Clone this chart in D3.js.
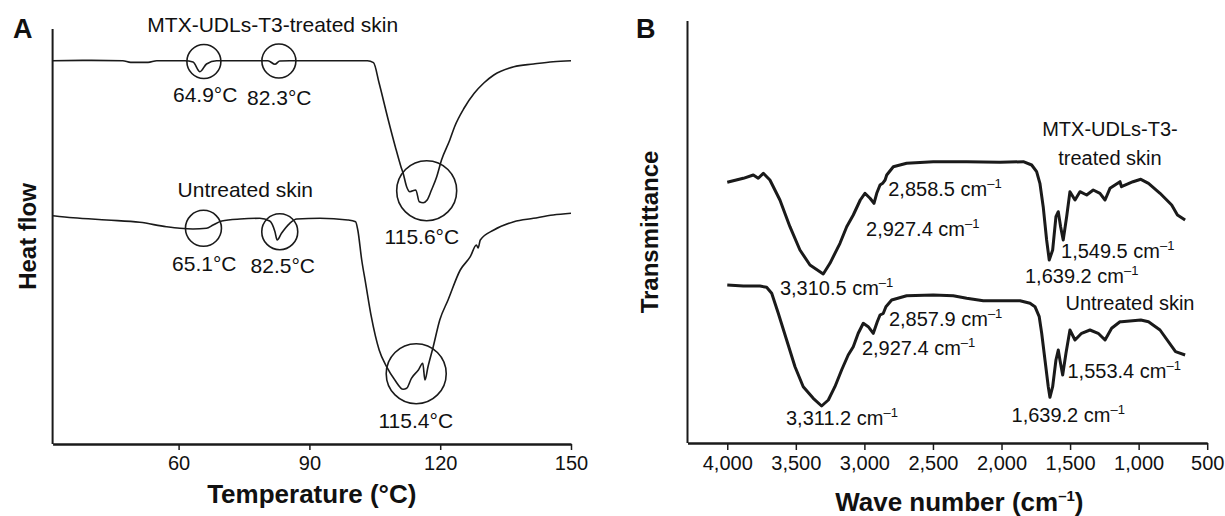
<!DOCTYPE html>
<html>
<head>
<meta charset="utf-8">
<script src="https://cdn.jsdelivr.net/npm/d3@7"></script>
<style>
  body { margin: 0; background: #fff; }
  svg text { font-family: "Liberation Sans", Arial, sans-serif; fill: #111; }
</style>
</head>
<body>
<svg id="chart" width="1225" height="516"></svg>
<script>
// ---- panel A : DSC thermograms (heat flow in arbitrary units) ----
var tempTicks = [60, 90, 120, 150];

var treatedTemp = [31.1, 40, 47.2, 49, 53, 55, 61.4, 63.3, 64.9, 66.4, 68.7, 80.5, 82.1, 83.2, 85.5,
  103.3, 104.7, 106, 107.9, 109.7, 111, 111.5, 112.3, 113.05, 114.4, 115.2, 116.1, 117, 118, 119.2,
  120.3, 122.2, 123.3, 125.5, 127.8, 130, 132.3, 136.9, 141.4, 145.9, 150];
var treatedHeat = [383.3, 383.6, 383.3, 381.6, 381.6, 383.3, 383.3, 382, 372.3, 380, 383.3, 383.3, 379.7, 383, 383.3,
  383.3, 381.3, 360.7, 327.3, 297.3, 277.3, 270.7, 257.3, 252.3, 254, 242.3, 241.3, 244, 254, 267.3,
  284, 304, 317.3, 336, 350.7, 361, 369, 377.3, 380, 382.3, 383.3];

var untreatedTemp = [31.2, 35.8, 43.5, 51.1, 57.2, 60.3, 63.3, 66.4, 67.9, 69.9, 74.1, 78.6, 80.9, 82.1,
  82.6, 83.6, 85.5, 87.1, 92.4, 98.8, 100.6, 101.1, 102, 102.9, 104.2, 106, 107.7, 109.6, 111.5, 112.3,
  113.4, 115, 116, 116.5, 117.2, 118.4, 119.9, 121.8, 124.6, 126.9, 128.3, 128.7, 129.2, 132.3, 136.9,
  141.4, 145.9, 150];
var untreatedHeat = [228.3, 226.3, 224, 221.7, 217.3, 215.7, 215, 215.7, 219, 223, 225, 225.7, 223, 212.3,
  204, 210.7, 220.7, 225, 225.7, 224, 222.3, 214, 184, 160.7, 127.3, 94, 77.3, 64, 54.7, 55.7,
  65.7, 74, 80.7, 64, 77.3, 97.3, 124, 144, 174, 187.3, 199, 196, 204, 214, 222.3,
  225.7, 229, 230.7];

// circled events: [temperature, heat flow] of centre, radius in px
var dscCircles = [[65.8, 382.5, 17], [83.0, 383, 17], [65.7, 215.7, 18], [83.2, 212.3, 18],
  [116.9, 253.3, 30], [114.5, 70.3, 30]];
var dscLabels = ["64.9°C", "82.3°C", "65.1°C", "82.5°C", "115.6°C", "115.4°C"];
var dscLabelAt = [[66.1, 342], [83.1, 339], [65.9, 173.3], [83.9, 170.7], [115.8, 200.5], [114.4, 15.7]];
var dscNames = ["MTX-UDLs-T3-treated skin", "Untreated skin"];
var dscNameAt = [[81.6, 411.7], [75.3, 246.7]];

// ---- panel B : FTIR spectra ----
var waveTicks = [4000, 3500, 3000, 2500, 2000, 1500, 1000, 500];

var treatedWave = [4000, 3883, 3810, 3774, 3737, 3689, 3616, 3543, 3470, 3397, 3300, 3251, 3178, 3129,
  3081, 3030, 2996, 2959, 2930, 2910, 2886, 2867, 2849, 2837, 2789, 2692, 2498, 2254, 2011, 1841,
  1780, 1744, 1720, 1696, 1671, 1652, 1627, 1603, 1586, 1569, 1550, 1525, 1501, 1464, 1428, 1379,
  1331, 1282, 1245, 1209, 1136, 1125, 1041, 984, 928, 844, 759, 717, 661];
var treatedTrans = [260.7, 264.7, 268, 264.7, 269.7, 263, 243, 216.3, 193, 178, 169, 179.7, 199.7, 216.3,
  228, 243, 249.7, 244.7, 239.7, 249.7, 258, 259.7, 263, 268, 276.3, 279.7, 281.3, 281.3, 280.7, 281.3,
  278, 271.3, 259.7, 236.3, 203, 183, 193, 226.3, 231.3, 216.3, 203, 226.3, 251.3, 243, 251.3, 248,
  253, 249.7, 243, 254.7, 261.3, 256.3, 261.3, 263.7, 259.7, 249.7, 238, 228, 223];

var untreatedWave = [4000, 3883, 3762, 3713, 3676, 3628, 3567, 3506, 3446, 3373, 3312, 3263, 3215, 3166,
  3118, 3081, 3045, 3008, 2972, 2935, 2906, 2886, 2862, 2843, 2801, 2692, 2498, 2352, 2254, 2133,
  2011, 1865, 1792, 1756, 1725, 1707, 1683, 1659, 1647, 1627, 1603, 1586, 1574, 1554, 1530, 1501,
  1464, 1416, 1355, 1295, 1245, 1197, 1136, 1125, 984, 928, 844, 731, 661];
var untreatedTrans = [158, 157, 157, 155.7, 149.7, 129.7, 103, 76.3, 56.3, 44.7, 37, 43, 56.3, 73,
  88, 96.3, 109.7, 119.7, 116.3, 109.7, 121.3, 128, 129.7, 136.3, 143, 147.3, 148, 147.3, 144.7, 142.3,
  142.3, 142.3, 139.7, 136.3, 126.3, 109.7, 83, 56.3, 45.7, 56.3, 83, 93, 83, 68, 89.7, 113,
  103, 109.7, 113, 109.7, 103, 114.7, 121.3, 121.3, 123, 121.3, 113, 91.3, 88];

var ftirLabels = ["2,858.5", "2,927.4", "1,549.5", "1,639.2", "3,310.5",
  "2,857.9", "2,927.4", "1,553.4", "1,639.2", "3,311.2"];
var ftirLabelAt = [[2826, 247.3], [2988, 207], [1566, 184.7], [1829, 159.7], [3616, 148],
  [2821, 117.3], [3018, 88], [1519, 64.7], [1927, 21.3], [3572, 18]];
var ftirNames = ["MTX-UDLs-T3-", "treated skin", "Untreated skin"];
var ftirNameAt = [[1209, 307], [1209, 278.5], [1063, 133]];

var svg = d3.select("#chart");
var ink = "#1a1a1a";

// ================= panel A =================
var xA = d3.scaleLinear().domain([31.1, 150]).range([52.6, 571]);
var yA = d3.scaleLinear().domain([0, 415]).range([444, 29]);

var gA = svg.append("g");

gA.append("line")
    .attr("x1", xA.range()[0]).attr("x2", xA.range()[0])
    .attr("y1", yA.range()[0]).attr("y2", yA.range()[1])
    .attr("stroke", ink).attr("stroke-width", 2);

var axA = gA.append("g")
    .attr("transform", "translate(0," + yA(0) + ")")
    .call(d3.axisBottom(xA).tickValues(tempTicks).tickSize(6).tickSizeOuter(0).tickPadding(6));
axA.select(".domain").attr("stroke", ink).attr("stroke-width", 2.5);
axA.selectAll(".tick line").attr("stroke", ink).attr("stroke-width", 1.5);
axA.selectAll(".tick text").attr("font-size", 20).attr("font-family", "Liberation Sans, Arial, sans-serif").attr("fill", ink);

var lineA = d3.line()
    .curve(d3.curveMonotoneX)
    .x(function(d) { return xA(d[0]); })
    .y(function(d) { return yA(d[1]); });

gA.append("path")
    .datum(d3.zip(treatedTemp, treatedHeat))
    .attr("d", lineA)
    .attr("fill", "none").attr("stroke", ink).attr("stroke-width", 1.6).attr("stroke-linejoin", "round");
gA.append("path")
    .datum(d3.zip(untreatedTemp, untreatedHeat))
    .attr("d", lineA)
    .attr("fill", "none").attr("stroke", ink).attr("stroke-width", 1.6).attr("stroke-linejoin", "round");

gA.selectAll("circle.ev")
    .data(dscCircles)
    .enter().append("circle")
    .attr("class", "ev")
    .attr("cx", function(d) { return xA(d[0]); })
    .attr("cy", function(d) { return yA(d[1]); })
    .attr("r", function(d) { return d[2]; })
    .attr("fill", "none").attr("stroke", ink).attr("stroke-width", 1.6);

gA.selectAll("text.ev")
    .data(dscLabels)
    .enter().append("text")
    .attr("class", "ev")
    .attr("x", function(d, i) { return xA(dscLabelAt[i][0]); })
    .attr("y", function(d, i) { return yA(dscLabelAt[i][1]); })
    .attr("text-anchor", "middle").attr("font-size", 21)
    .text(function(d) { return d; });

gA.selectAll("text.nm")
    .data(dscNames)
    .enter().append("text")
    .attr("class", "nm")
    .attr("x", function(d, i) { return xA(dscNameAt[i][0]); })
    .attr("y", function(d, i) { return yA(dscNameAt[i][1]); })
    .attr("text-anchor", "middle").attr("font-size", 21)
    .text(function(d) { return d; });

gA.append("text")
    .attr("x", (xA.range()[0] + xA.range()[1]) / 2).attr("y", 503)
    .attr("text-anchor", "middle").attr("font-size", 26).attr("font-weight", "bold")
    .text("Temperature (°C)");

gA.append("text")
    .attr("transform", "translate(36," + ((yA.range()[0] + yA.range()[1]) / 2) + ") rotate(-90)")
    .attr("text-anchor", "middle").attr("font-size", 24).attr("font-weight", "bold")
    .text("Heat flow");

gA.append("text")
    .attr("x", 13).attr("y", 38)
    .attr("font-size", 27).attr("font-weight", "bold")
    .text("A");

// ================= panel B =================
var xB = d3.scaleLinear().domain([4290, 500]).range([687.5, 1207.2]);
var yB = d3.scaleLinear().domain([0, 422]).range([443, 21]);

var gB = svg.append("g");

gB.append("line")
    .attr("x1", xB.range()[0]).attr("x2", xB.range()[0])
    .attr("y1", yB.range()[0]).attr("y2", yB.range()[1])
    .attr("stroke", ink).attr("stroke-width", 2);

var axB = gB.append("g")
    .attr("transform", "translate(0," + yB(0) + ")")
    .call(d3.axisBottom(xB).tickValues(waveTicks).tickSize(7).tickSizeOuter(0).tickPadding(6)
      .tickFormat(d3.format(",")));
axB.select(".domain").attr("stroke", ink).attr("stroke-width", 2.5);
axB.selectAll(".tick line").attr("stroke", ink).attr("stroke-width", 1.5);
axB.selectAll(".tick text").attr("font-size", 20).attr("font-family", "Liberation Sans, Arial, sans-serif").attr("fill", ink);

var lineB = d3.line().x(function(d) { return xB(d[0]); }).y(function(d) { return yB(d[1]); });

gB.append("path")
    .datum(d3.zip(treatedWave, treatedTrans))
    .attr("d", lineB)
    .attr("fill", "none").attr("stroke", ink).attr("stroke-width", 3).attr("stroke-linejoin", "round");
gB.append("path")
    .datum(d3.zip(untreatedWave, untreatedTrans))
    .attr("d", lineB)
    .attr("fill", "none").attr("stroke", ink).attr("stroke-width", 3).attr("stroke-linejoin", "round");

// wave number labels with superscript -1
var wl = gB.selectAll("text.wl")
    .data(ftirLabels)
    .enter().append("text")
    .attr("class", "wl")
    .attr("x", function(d, i) { return xB(ftirLabelAt[i][0]); })
    .attr("y", function(d, i) { return yB(ftirLabelAt[i][1]); })
    .attr("font-size", 20);
wl.append("tspan").text(function(d) { return d + " cm"; });
wl.append("tspan").attr("dy", -8).attr("font-size", 13).text("\u20131");

gB.selectAll("text.nm")
    .data(ftirNames)
    .enter().append("text")
    .attr("class", "nm")
    .attr("x", function(d, i) { return xB(ftirNameAt[i][0]); })
    .attr("y", function(d, i) { return yB(ftirNameAt[i][1]); })
    .attr("text-anchor", "middle").attr("font-size", 20)
    .text(function(d) { return d; });

var tB = gB.append("text")
    .attr("x", (xB.range()[0] + xB.range()[1]) / 2 + 12).attr("y", 511)
    .attr("text-anchor", "middle").attr("font-size", 26).attr("font-weight", "bold");
tB.append("tspan").text("Wave number (cm");
tB.append("tspan").attr("dy", -10).attr("font-size", 15).text("\u20131");
tB.append("tspan").attr("dy", 10).text(")");

gB.append("text")
    .attr("transform", "translate(658," + ((yB.range()[0] + yB.range()[1]) / 2) + ") rotate(-90)")
    .attr("text-anchor", "middle").attr("font-size", 24).attr("font-weight", "bold")
    .text("Transmittance");

gB.append("text")
    .attr("x", 636).attr("y", 38)
    .attr("font-size", 27).attr("font-weight", "bold")
    .text("B");
</script>
</body>
</html>
